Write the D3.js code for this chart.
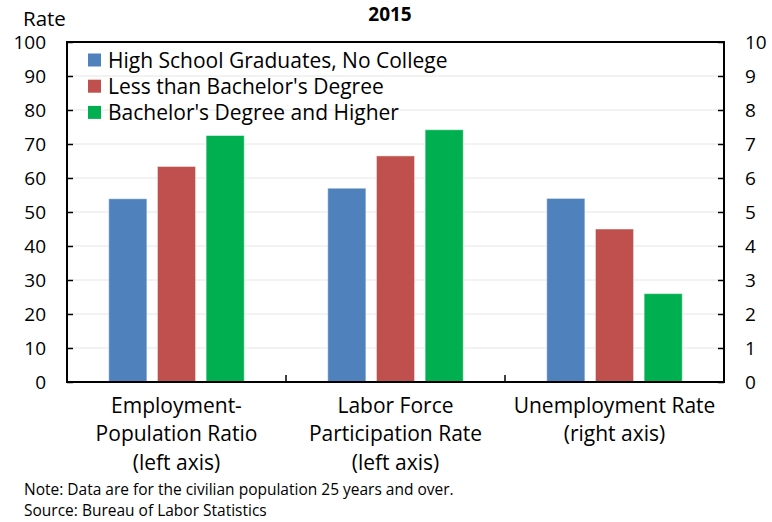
<!DOCTYPE html>
<html><head><meta charset="utf-8">
<script src="https://cdn.jsdelivr.net/npm/d3@7"></script>
<style>
body{margin:0;background:#fff;}
text{font-family:"Open Sans","Noto Sans",sans-serif;fill:#000;}
</style></head>
<body><svg id="c" width="772" height="522"></svg>
<script>
const categories = [["Employment-","Population Ratio","(left axis)"],["Labor Force","Participation Rate","(left axis)"],["Unemployment Rate","(right axis)"]];
const seriesNames = ["High School Graduates, No College","Less than Bachelor's Degree","Bachelor's Degree and Higher"];
const seriesColors = ["#4F81BD","#C0504D","#00B050"];
const empPop = [53.9, 63.4, 72.5];
const laborForce = [57.0, 66.5, 74.2];
const unemployment = [5.4, 4.5, 2.6];
const leftTicks = [0,10,20,30,40,50,60,70,80,90,100];
const rightTicks = [0,1,2,3,4,5,6,7,8,9,10];

const svg = d3.select("#c");
const L=67, R=724, T=42, B=382;
const x = d3.scaleBand().domain([0,1,2]).range([L,R]);
const yL = d3.scaleLinear().domain([0,100]).range([B,T]);
const yR = d3.scaleLinear().domain([0,10]).range([B,T]);
const xs = d3.scaleBand().domain([0,1,2]).range([0,x.bandwidth()]).paddingInner(0.216).paddingOuter(0.857);

// gridlines
svg.append("g").selectAll("line").data(leftTicks.filter(d=>d>0&&d<100)).join("line")
  .attr("x1",L).attr("x2",R).attr("y1",d=>yL(d)).attr("y2",d=>yL(d))
  .attr("stroke","#e6e6e6").attr("stroke-width",1);

const rows = [
  {vals:empPop, scale:yL},
  {vals:laborForce, scale:yL},
  {vals:unemployment, scale:yR}
];
rows.forEach((r,ci)=>{
  svg.append("g").selectAll("rect").data(r.vals).join("rect")
    .attr("x",(d,i)=>x(ci)+xs(i))
    .attr("width",xs.bandwidth())
    .attr("y",d=>r.scale(d))
    .attr("height",d=>B-r.scale(d))
    .attr("fill",(d,i)=>seriesColors[i])
    .attr("stroke","rgba(255,255,255,0.5)").attr("stroke-width",1);
});

// axes
const gl = svg.append("g").attr("transform",`translate(${L},0)`)
  .call(d3.axisRight(yL).tickValues(leftTicks).tickSize(6).tickFormat(""));
gl.select(".domain").remove();
gl.selectAll(".tick line").attr("stroke","#000").attr("stroke-width",1.5);
const gr = svg.append("g").attr("transform",`translate(${R},0)`)
  .call(d3.axisLeft(yR).tickValues(rightTicks).tickSize(6).tickFormat(""));
gr.select(".domain").remove();
gr.selectAll(".tick line").attr("stroke","#000").attr("stroke-width",1.5);

svg.append("rect").attr("x",L).attr("y",T).attr("width",R-L).attr("height",B-T)
  .attr("fill","none").attr("stroke","#000").attr("stroke-width",2);

// category dividers
svg.append("g").selectAll("line").data([1,2]).join("line")
  .attr("x1",d=>x(d)).attr("x2",d=>x(d)).attr("y1",B).attr("y2",B-7)
  .attr("stroke","#000").attr("stroke-width",1.5);

// tick labels
svg.append("g").selectAll("text").data(leftTicks).join("text")
  .attr("x",46).attr("y",d=>yL(d)).attr("dy","0.36em").attr("text-anchor","end")
  .style("font-size","19px").text(d=>d);
svg.append("g").selectAll("text").data(rightTicks).join("text")
  .attr("x",745).attr("y",d=>yR(d)).attr("dy","0.36em").attr("text-anchor","start")
  .style("font-size","19px").text(d=>d);

svg.append("text").attr("x",23).attr("y",26).style("font-size","20.5px").text("Rate");
svg.append("text").attr("x",390).attr("y",21).attr("text-anchor","middle")
  .style("font-size","19px").style("font-weight","bold").text("2015");

// category labels
categories.forEach((lines,ci)=>{
  const t = svg.append("text").attr("text-anchor","middle").style("font-size","21px");
  lines.forEach((s,j)=>{
    t.append("tspan").attr("x",x(ci)+x.bandwidth()/2).attr("y",412.5+j*28.5).text(s);
  });
});

// legend
const lg = svg.append("g");
seriesNames.forEach((s,i)=>{
  const cy = 60+i*26.2;
  lg.append("rect").attr("x",88).attr("y",cy-6.5).attr("width",13).attr("height",13).attr("fill",seriesColors[i]);
  lg.append("text").attr("x",108).attr("y",cy).attr("dy","0.36em").style("font-size","21px").text(s);
});

svg.append("text").attr("x",24).attr("y",494.5).style("font-size","15.5px").text("Note: Data are for the civilian population 25 years and over.");
svg.append("text").attr("x",24).attr("y",516).style("font-size","15.5px").text("Source: Bureau of Labor Statistics");
</script></body></html>
